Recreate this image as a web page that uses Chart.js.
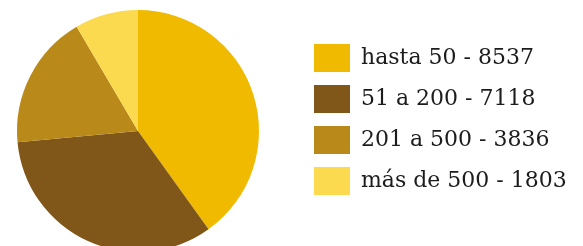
<!DOCTYPE html>
<html>
<head>
<meta charset="utf-8">
<script src="https://cdn.jsdelivr.net/npm/chart.js@4.4.1/dist/chart.umd.min.js"></script>
<style>
  html, body { margin: 0; padding: 0; background: #ffffff; overflow: hidden; }
  #wrap { width: 583px; height: 246px; position: relative; overflow: hidden; }
  #c { position: absolute; left: -25px; top: 0; }
</style>
</head>
<body>
<div id="wrap"><canvas id="c" width="608" height="252"></canvas></div>
<script>
const categories = ['hasta 50', '51 a 200', '201 a 500', 'más de 500'];
const values = [8537, 7118, 3836, 1803];
const colors = ['#F0BA00', '#805619', '#B98A1A', '#FBDA50'];

const labels = categories.map((c, i) => c + ' - ' + values[i]);

const FONT_FAMILY = '"DejaVu Serif", serif';
const FONT_SIZE = 22;
const CANVAS_W = 608;

// measure longest legend label to place the legend column
const mctx = document.createElement('canvas').getContext('2d');
mctx.font = FONT_SIZE + 'px ' + FONT_FAMILY;
const maxTextW = Math.max(...labels.map(l => mctx.measureText(l).width));
const boxW = 36, labelPad = 13;
const legendLeft = 326;
const legendWidth = labelPad + boxW + FONT_SIZE / 2 + maxTextW + 10;
const padRight = Math.max(0, CANVAS_W - legendLeft - legendWidth);

new Chart(document.getElementById('c'), {
  type: 'pie',
  data: {
    labels: labels,
    datasets: [{
      data: values,
      backgroundColor: colors,
      borderWidth: 0
    }]
  },
  options: {
    responsive: false,
    animation: false,
    layout: { padding: { left: 0, right: padRight, top: 10, bottom: 0 } },
    plugins: {
      tooltip: { enabled: false },
      legend: {
        position: 'right',
        align: 'start',
        title: { display: true, text: '', padding: 0, font: { size: 21, lineHeight: 1 } },
        labels: {
          boxWidth: boxW,
          boxHeight: 28,
          padding: labelPad,
          color: '#1c1c1c',
          font: { family: FONT_FAMILY, size: FONT_SIZE }
        }
      }
    }
  }
});
</script>
</body>
</html>
